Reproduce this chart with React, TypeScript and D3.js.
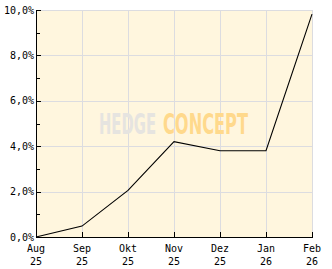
import React, { useLayoutEffect, useRef, useState } from "react";
import * as d3 from "d3";

const months = ["Aug", "Sep", "Okt", "Nov", "Dez", "Jan", "Feb"];
const years = ["25", "25", "25", "25", "25", "26", "26"];
const values = [0, 0.48, 2.05, 4.2, 3.8, 3.8, 9.82];
const yTicks = [0, 2, 4, 6, 8, 10];
const yMinorTicks = [1, 3, 5, 7, 9];
const wmWords = ["HEDGE", "CONCEPT"];

const W = 332, H = 269;
const L = 36, R = 312, T = 10, B = 237;
const wmX = [99, 163];
const wmW = [57, 85];
const wmColors = ["#e6e4e0", "#ffd98c"];

export default function App() {
  const x = d3.scalePoint<number>().domain(d3.range(months.length)).range([L, R]);
  const y = d3.scaleLinear().domain([0, 10]).range([B, T]);
  const line = d3.line<number>().x((_, i) => x(i)!).y((d) => y(d));
  const font = "'DejaVu Sans Mono', monospace";
  const wm = "'DejaVu Sans Condensed', 'DejaVu Sans', sans-serif";
  const refs = [useRef<SVGTextElement>(null), useRef<SVGTextElement>(null)];
  const [sx, setSx] = useState([0.82, 0.9]);
  useLayoutEffect(() => {
    const s = refs.map((r, i) => {
      const w = r.current ? r.current.getComputedTextLength() : 0;
      return w > 0 ? wmW[i] / w : 1;
    });
    setSx(s);
  }, []);
  return (
    <svg width={W} height={H} style={{ position: "absolute", left: 0, top: 0 }}>
      <rect x={0} y={0} width={W} height={H} fill="#ffffff" />
      <rect x={L} y={T} width={R - L} height={B - T} fill="#fff6de" />
      {yTicks.map((t) => (
        <line key={"gy" + t} x1={L} x2={R} y1={Math.round(y(t)) + 0.5} y2={Math.round(y(t)) + 0.5} stroke="#dcdce0" />
      ))}
      {months.map((_, i) => (
        <line key={"gx" + i} x1={Math.round(x(i)!) + 0.5} x2={Math.round(x(i)!) + 0.5} y1={T} y2={B} stroke="#dcdce0" />
      ))}
      {wmWords.map((w, i) => (
        <g key={"wm" + i} transform={`translate(${wmX[i]},134) scale(${sx[i]},1.38)`}>
          <text ref={refs[i]} x={0} y={0} fontFamily={wm} fontWeight="bold" fontSize={20} fill={wmColors[i]}>{w}</text>
        </g>
      ))}
      <path d={line(values) || ""} fill="none" stroke="#000" strokeWidth={1.1} />
      <line x1={L + 0.5} x2={L + 0.5} y1={T} y2={B + 0.5} stroke="#000" />
      <line x1={L} x2={R + 1} y1={B + 0.5} y2={B + 0.5} stroke="#000" />
      {yTicks.map((t) => (
        <g key={"yt" + t}>
          <line x1={L} x2={L + 5} y1={Math.round(y(t)) + 0.5} y2={Math.round(y(t)) + 0.5} stroke="#000" />
          <text x={34} y={y(t) + 3.5} textAnchor="end" fontFamily={font} fontSize={10} fill="#000">
            {t.toFixed(1).replace(".", ",") + "%"}
          </text>
        </g>
      ))}
      {yMinorTicks.map((t) => (
        <line key={"ym" + t} x1={L} x2={L + 4} y1={Math.round(y(t)) + 0.5} y2={Math.round(y(t)) + 0.5} stroke="#000" />
      ))}
      {months.map((m, i) => (
        <g key={"xt" + i}>
          <line x1={Math.round(x(i)!) + 0.5} x2={Math.round(x(i)!) + 0.5} y1={B} y2={B - 5} stroke="#000" />
          <text x={x(i)} y={251.5} textAnchor="middle" fontFamily={font} fontSize={10} fill="#000">{m}</text>
          <text x={x(i)} y={264.5} textAnchor="middle" fontFamily={font} fontSize={10} fill="#000">{years[i]}</text>
        </g>
      ))}
    </svg>
  );
}
